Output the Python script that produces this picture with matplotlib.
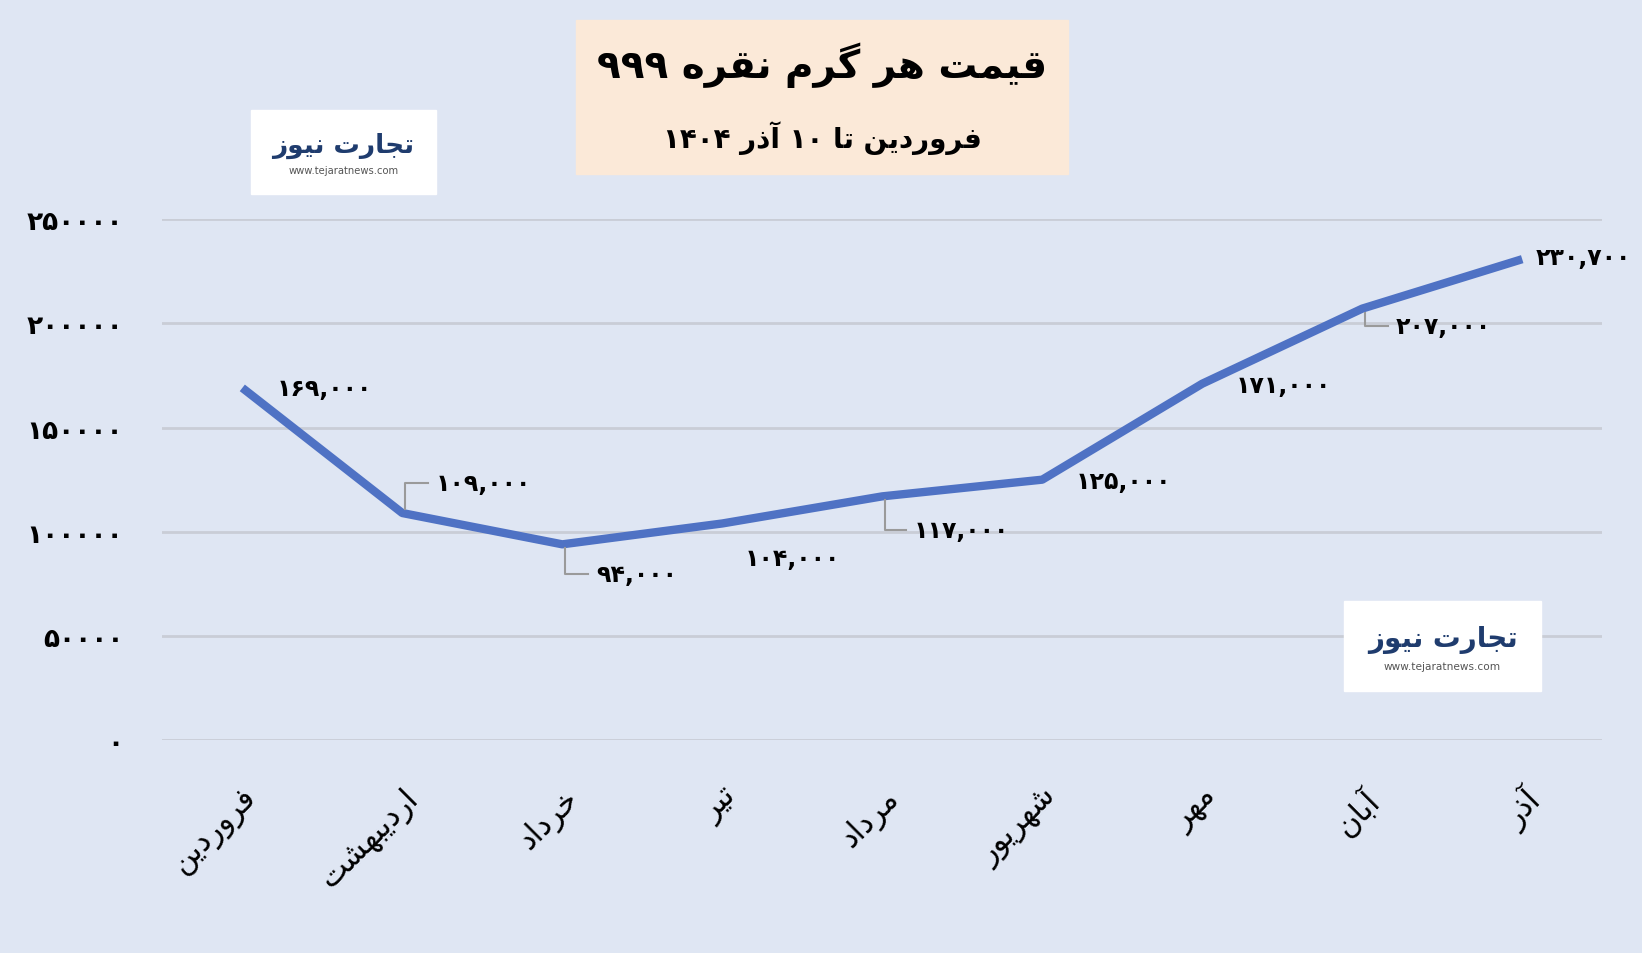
import re
import matplotlib
matplotlib.use("Agg")
import matplotlib.pyplot as plt
from matplotlib.patches import Rectangle

months = ["فروردین", "اردیبهشت", "خرداد", "تیر", "مرداد", "شهریور", "مهر", "آبان", "آذر"]
prices = [169000, 109000, 94000, 104000, 117000, 125000, 171000, 207000, 230700]
yticks = [0, 50000, 100000, 150000, 200000, 250000]
title = "قیمت هر گرم نقره ۹۹۹"
subtitle = "فروردین تا ۱۰ آذر ۱۴۰۴"
logo = "تجارت نیوز"

# --- minimal Persian shaping ---
FORMS = {
    'ا': (0xFE8D, 2), 'آ': (0xFE81, 2), 'ب': (0xFE8F, 4), 'پ': (0xFB56, 4), 'ت': (0xFE95, 4),
    'ث': (0xFE99, 4), 'ج': (0xFE9D, 4), 'چ': (0xFB7A, 4), 'ح': (0xFEA1, 4), 'خ': (0xFEA5, 4),
    'د': (0xFEA9, 2), 'ذ': (0xFEAB, 2), 'ر': (0xFEAD, 2), 'ز': (0xFEAF, 2), 'ژ': (0xFB8A, 2),
    'س': (0xFEB1, 4), 'ش': (0xFEB5, 4), 'ف': (0xFED1, 4), 'ق': (0xFED5, 4), 'ک': (0xFB8E, 4),
    'گ': (0xFB92, 4), 'ل': (0xFEDD, 4), 'م': (0xFEE1, 4), 'ن': (0xFEE5, 4), 'ه': (0xFEE9, 4),
    'و': (0xFEED, 2), 'ی': (0xFBFC, 4),
}

def shape(word):
    out = []
    n = len(word)
    for i, c in enumerate(word):
        if c not in FORMS:
            out.append(c); continue
        base, cnt = FORMS[c]
        prev = word[i-1] if i > 0 else None
        nxt = word[i+1] if i < n-1 else None
        jp = prev in FORMS and FORMS[prev][1] == 4
        jn = cnt == 4 and nxt in FORMS
        if jp and jn: k = 3
        elif jp: k = 1
        elif jn: k = 2
        else: k = 0
        out.append(chr(base + k))
    return ''.join(out)

def fa(s):
    toks = re.findall(r'[۰-۹0-9,]+|[^۰-۹0-9,]+', s)
    res = []
    for t in reversed(toks):
        if re.match(r'[۰-۹0-9,]', t):
            res.append(t)
        else:
            res.append(shape(t)[::-1])
    return ''.join(res)

def fdig(v, comma=False):
    s = f"{v:,}" if comma else str(v)
    return s.translate(str.maketrans("0123456789", "۰۱۲۳۴۵۶۷۸۹"))

plt.rcParams['font.family'] = ['DejaVu Sans']
W, H = 1568, 911          # reference coordinate frame
S = 1642 / 1568
bg = "#dfe6f3"
fig = plt.figure(figsize=(16.42, 9.54), dpi=100, facecolor=bg)
ax = fig.add_axes([155/W, (H-708)/H, (1530-155)/W, (708-210)/H])
ax.set_facecolor(bg)
x = list(range(len(months)))
ax.set_xlim(-0.5, len(months)-0.5)
ax.set_ylim(0, 250000)
ax.set_yticks(yticks)
ax.set_yticklabels([fdig(v) for v in yticks], fontsize=19, fontweight='bold')
ax.yaxis.grid(True, color="#c9cdd6", lw=2)
ax.set_axisbelow(True)
for s in ax.spines.values():
    s.set_visible(False)
ax.tick_params(length=0)
ax.tick_params(axis='y', pad=28)
ax.set_xticks(x)
ax.set_xticklabels([fa(m) for m in months], rotation=45, ha='right', va='top',
                   rotation_mode='anchor', fontsize=22)
ax.tick_params(axis='x', pad=30)
for lbl in ax.get_xticklabels():
    lbl.set_x(lbl.get_position()[0])
ax.plot(x, prices, color="#4f72c4", lw=6, solid_capstyle='butt', solid_joinstyle='round')

offs = [(33, 0, None), (32, 29, 'up'), (32, -28, 'down'), (67, -33, 'c'), (30, -32, 'down'),
        (32, -1, None), (32, -1, None), (32, -17, 'down'), (13, 2, None)]
for i, (v, (dx, dy, ld)) in enumerate(zip(prices, offs)):
    px, py = ax.transData.transform((i, v))
    dx, dy = dx*S, dy*S
    ha = 'center' if ld == 'c' else 'left'
    fig.text((px+dx)/1642, (py+dy)/954, fdig(v, True), ha=ha, va='center', fontsize=17, fontweight='bold')
    if ld in ('up', 'down'):
        sgn = 1 if ld == 'up' else -1
        xs = [px+3, px+3, px+dx-8]
        ys = [py+sgn*4, py+dy, py+dy]
        fig.add_artist(plt.Line2D([a/1642 for a in xs], [b/954 for b in ys], color="#9a9a9a", lw=1.5))

fig.add_artist(Rectangle((550/W, (H-167)/H), 470/W, 147/H, color="#fbe9d8"))
fig.text(785/W, (H-62)/H, fa(title), ha='center', va='center', fontsize=28, fontweight='bold')
fig.text(785/W, (H-132)/H, fa(subtitle), ha='center', va='center', fontsize=20, fontweight='bold')

def draw_logo(x0, y0, w, h, fs):
    fig.add_artist(Rectangle((x0/W, (H-y0-h)/H), w/W, h/H, color="white"))
    fig.text((x0+w/2)/W, (H-y0-h*0.42)/H, fa(logo), ha='center', va='center', fontsize=fs,
             fontweight='bold', color="#1f3c6e")
    fig.text((x0+w/2)/W, (H-y0-h*0.72)/H, "www.tejaratnews.com", ha='center', va='center',
             fontsize=fs*0.38, color="#555555")

draw_logo(240, 106, 176, 80, 19)
draw_logo(1283, 575, 189, 86, 20)

fig.savefig("out.png", dpi=100, facecolor=bg)
